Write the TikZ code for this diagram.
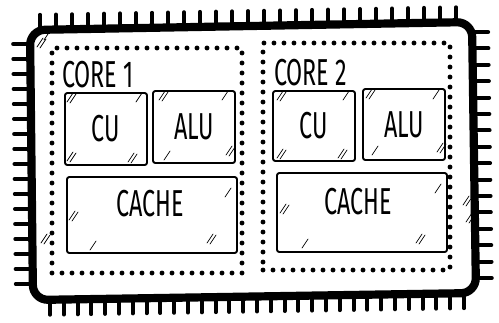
\documentclass[tikz,border=0pt]{standalone}
\usepackage{fontspec}
\newfontfamily\handfont[FakeStretch=0.62]{Fira Sans}
\usetikzlibrary{positioning}

\begin{document}
\begin{tikzpicture}[
    x=0.03cm, y=-0.03cm,
    chippin/.style={line width=3.4pt, line cap=round},
    chipline/.style={line width=7pt, rounded corners=0.45cm, line join=round},
    corebox/.style={rectangle, draw, line width=4.2pt, line cap=round,
                    dash pattern=on 0pt off 0.3cm},
    unittext/.style={font=\handfont\fontsize{32}{36}\selectfont, inner sep=0pt},
    unitbox/.style={rectangle, draw, line width=1.6pt, rounded corners=2pt, unittext},
    glintline/.style={line width=0.6pt, line cap=round},
    glint/.pic={\draw[glintline] (0,0) -- (6,-9); \draw[glintline] (3,1) -- (9,-8);},
    glintone/.pic={\draw[glintline] (0,0) -- (6,-9);}
  ]
    \useasboundingbox (0,0) rectangle (499,322);

    % Pins
    \foreach \px in {40,56,...,456}
      \draw[chippin] (\px,{30-8*(\px-30)/442}) -- ++(0,-15);
    \foreach \py in {44,59,...,284}
      \draw[chippin] ({30+3*(\py-30)/270},\py) -- ++(-17,0);
    \foreach \py in {32,48.4,...,279}
      \draw[chippin] ({472+4*(\py-22)/271},\py) -- ++(16,0);
    \foreach \px in {50,63.8,...,465}
      \draw[chippin] (\px,{300-7*(\px-33)/443}) -- ++(0,15);

    % Chip package
    \draw[chipline, fill=white] (251,26) -- (472,22) -- (476,293) -- (33,300) -- (30,30) -- cycle;
    \pic at (37,47) {glint};
    \pic at (44,40) {glintone};
    \pic at (41,243) {glint};
    \pic at (463,205) {glint};
    \pic at (466,222) {glint};

    % Cores
    \node[corebox, minimum width=5.7cm, minimum height=6.75cm] (core1) at (147,160.5) {};
    \node[corebox, minimum width=5.61cm, minimum height=6.81cm] (core2) at (356.5,156.5) {};
    \node[unittext, anchor=west] (core1label) at (62,75) {CORE 1};
    \node[unittext, anchor=west] (core2label) at (274,73) {CORE 2};

    % Core 1 units
    \node[unitbox, minimum width=2.46cm, minimum height=2.16cm] (cu1) at (106,129) {CU};
    \node[unitbox, minimum width=2.46cm, minimum height=2.16cm] (alu1) at (194,127) {ALU};
    \node[unitbox, minimum width=5.1cm, minimum height=2.28cm] (cache1) at (152,215) {};
    \node[unittext] (cache1text) at (150,204) {CACHE};

    % Core 2 units
    \node[unitbox, minimum width=2.46cm, minimum height=2.1cm] (cu2) at (314,126) {CU};
    \node[unitbox, minimum width=2.46cm, minimum height=2.13cm] (alu2) at (404,124.5) {ALU};
    \node[unitbox, minimum width=5.1cm, minimum height=2.37cm] (cache2) at (362,212.5) {};
    \node[unittext] (cache2text) at (358,202) {CACHE};

    % Glints
    \pic at (67,102) {glint};   \pic at (136,102) {glintone};
    \pic at (67,161) {glint};   \pic at (128,162) {glint};
    \pic at (159,100) {glint};  \pic at (222,100) {glintone};
    \pic at (164,160) {glintone}; \pic at (226,155) {glint};
    \pic at (69,220) {glint};   \pic at (225,197) {glintone};
    \pic at (90,250) {glintone}; \pic at (207,243) {glint};
    \pic at (277,100) {glint};  \pic at (343,100) {glintone};
    \pic at (277,158) {glint};  \pic at (338,158) {glint};
    \pic at (366,98) {glint};   \pic at (433,99) {glintone};
    \pic at (372,155) {glintone}; \pic at (437,152) {glint};
    \pic at (280,213) {glint};  \pic at (435,193) {glintone};
    \pic at (302,248) {glintone}; \pic at (416,243) {glint};
  \end{tikzpicture}
\end{document}
